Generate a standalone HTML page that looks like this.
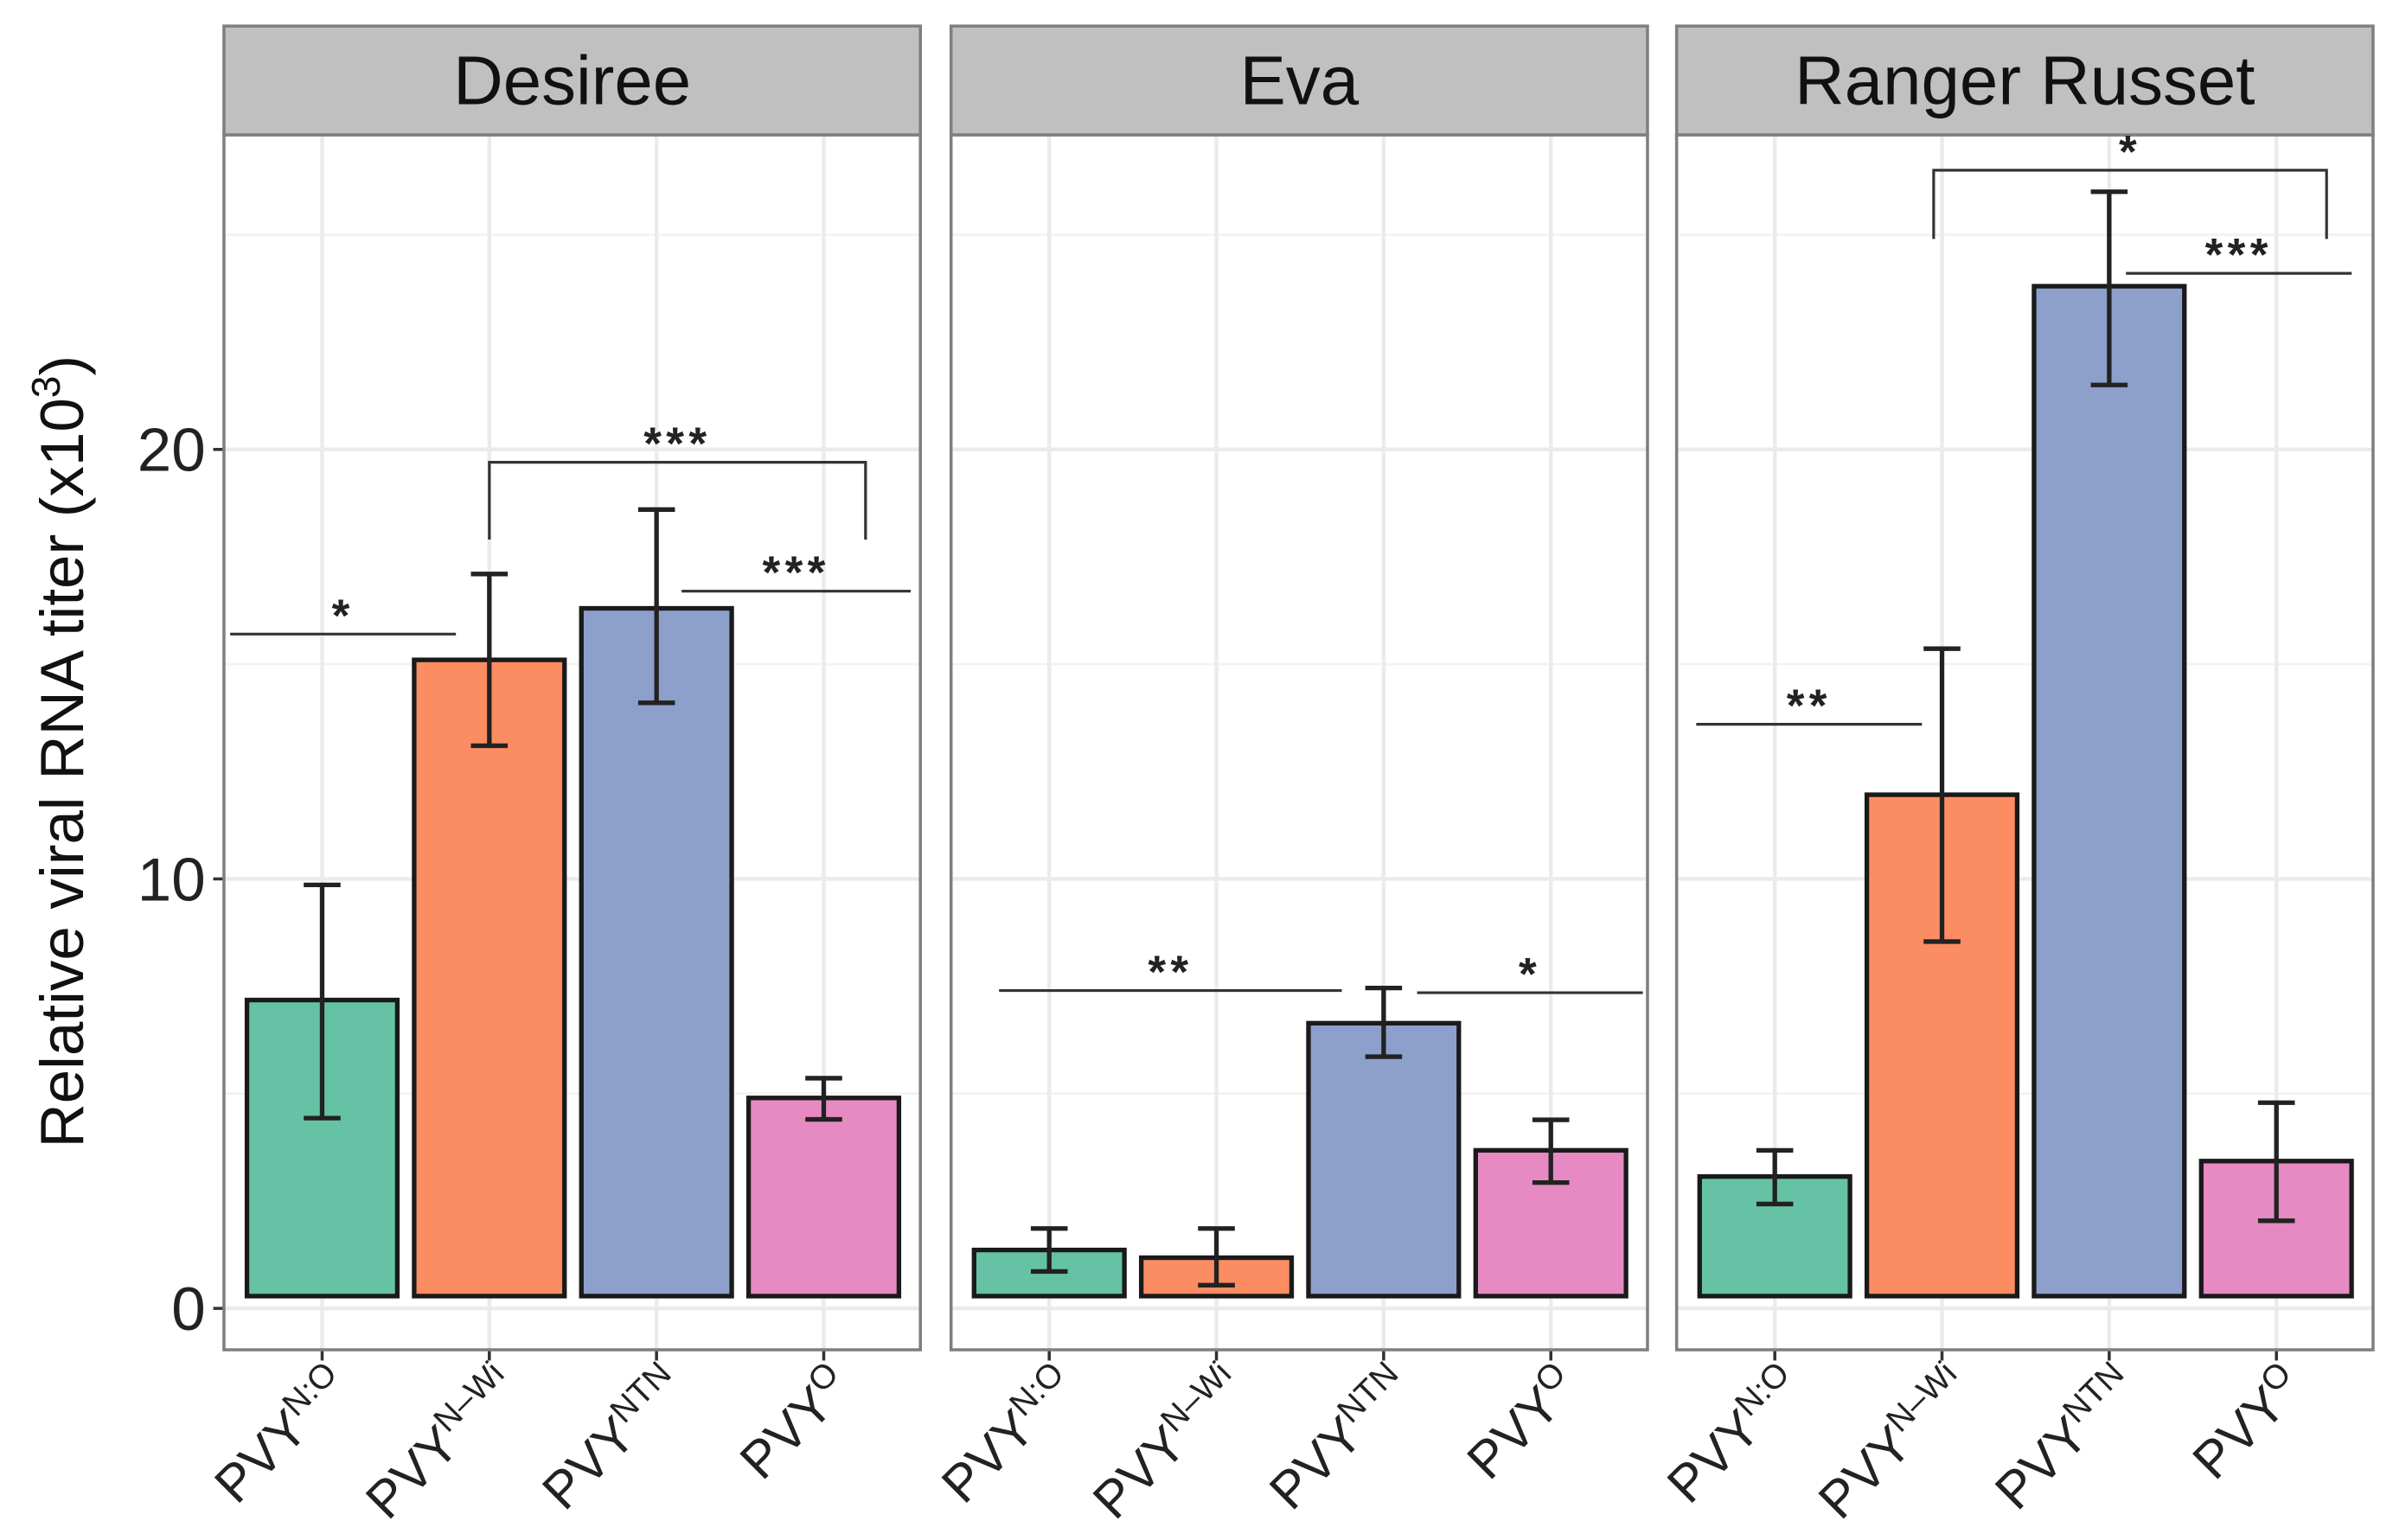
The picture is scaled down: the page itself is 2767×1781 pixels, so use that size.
<!DOCTYPE html>
<html><head><meta charset="utf-8"><style>
html,body{margin:0;padding:0;background:#fff}
svg{display:block}
text{font-family:"Liberation Sans",sans-serif}
</style></head><body>
<svg id="chart" width="2767" height="1781" viewBox="0 0 1560 1004" preserveAspectRatio="none" xmlns="http://www.w3.org/2000/svg">
</svg>
<script>
const panels = ["Desiree", "Eva", "Ranger Russet"];
const categories = ["N:O", "N\u2013Wi", "NTN", "O"];
const colors = ["#66c2a5", "#fc8d62", "#8da0cb", "#e78ac3"];
const meansDesiree = [7.18, 15.1, 16.3, 4.9];
const meansEva = [1.36, 1.18, 6.64, 3.68];
const meansRanger = [3.07, 11.96, 23.8, 3.43];
const errHiDesiree = [9.86, 17.1, 18.6, 5.36];
const errLoDesiree = [4.43, 13.1, 14.1, 4.4];
const errHiEva = [1.86, 1.86, 7.46, 4.39];
const errLoEva = [0.86, 0.54, 5.86, 2.93];
const errHiRanger = [3.68, 15.36, 26.0, 4.79];
const errLoRanger = [2.43, 8.54, 21.5, 2.04];
const yTicks = [0, 10, 20];
const yMinor = [5, 15, 25];
const sigs = [
 {p:0, bracket:false, a:-0.55, b:0.8, v:15.7, label:"*"},
 {p:0, bracket:true, a:1, b:3.25, v:19.7, leg:17.9, label:"***"},
 {p:0, bracket:false, a:2.15, b:3.52, v:16.7, label:"***"},
 {p:1, bracket:false, a:-0.3, b:1.75, v:7.4, label:"**"},
 {p:1, bracket:false, a:2.2, b:3.55, v:7.35, label:"*"},
 {p:2, bracket:false, a:-0.47, b:0.88, v:13.6, label:"**"},
 {p:2, bracket:true, a:0.95, b:3.3, v:26.5, leg:24.9, label:"*"},
 {p:2, bracket:false, a:2.1, b:3.45, v:24.1, label:"***"}
];
const means = [meansDesiree, meansEva, meansRanger];
const hi = [errHiDesiree, errHiEva, errHiRanger];
const lo = [errLoDesiree, errLoEva, errLoRanger];

const svg = document.getElementById('chart');
const NS = "http://www.w3.org/2000/svg";
const panelX = [146, 620, 1093], panelW = 454;
const y = v => 853 - 28 * v;
const xc = (p, i) => panelX[p] + 64 + i * 109;
const base = 845;
function mk(tag, attrs, txt) {
  const e = document.createElementNS(NS, tag);
  for (const k in attrs) e.setAttribute(k, attrs[k]);
  if (txt !== undefined) e.textContent = txt;
  svg.appendChild(e);
  return e;
}
let t = mk('text', {x: 0, y: 0, transform: 'translate(54,490) rotate(-90)', 'text-anchor': 'middle', 'font-size': 40, fill: '#111'});


t.innerHTML = 'Relative viral RNA titer (x10<tspan dy="-15" font-size="26">3</tspan><tspan dy="15">)</tspan>';
yTicks.forEach(v => {
  const l = mk('text', {x: 134, y: y(v) + 14, 'text-anchor': 'end', 'font-size': 40, fill: '#222'}, String(v));
  
  
  const tk = mk('line', {x1: 139, x2: 146, y1: y(v), y2: y(v), stroke: '#333', 'stroke-width': 2});
  
  
});
panels.forEach((name, p) => {
  const px = panelX[p];
  const st = mk('rect', {x: px, y: 17, width: panelW, height: 71, fill: '#c0c0c0', stroke: '#7f7f7f', 'stroke-width': 2});
  
  
  const stt = mk('text', {x: px + panelW / 2, y: 68, 'text-anchor': 'middle', 'font-size': 45, fill: '#111'}, name);
  
  
  const bg = mk('rect', {x: px, y: 88, width: panelW, height: 792, fill: '#fff'});
  
  
  yMinor.forEach(v => {
    const g = mk('line', {x1: px, x2: px + panelW, y1: y(v), y2: y(v), stroke: '#f2f2f2', 'stroke-width': 1.5});
    
    
  });
  yTicks.forEach(v => {
    const g = mk('line', {x1: px, x2: px + panelW, y1: y(v), y2: y(v), stroke: '#ebebeb', 'stroke-width': 2.5});
    
    
  });
  categories.forEach((c, i) => {
    const g = mk('line', {x1: xc(p, i), x2: xc(p, i), y1: 88, y2: 880, stroke: '#ebebeb', 'stroke-width': 2.5});
    
    
  });
  categories.forEach((c, i) => {
    const m = means[p][i];
    const b = mk('rect', {x: xc(p, i) - 49, y: y(m), width: 98, height: base - y(m), fill: colors[i], stroke: '#1a1a1a', 'stroke-width': 3});
    
    
    const x = xc(p, i);
    const e = mk('path', {d: `M${x - 12},${y(hi[p][i])}H${x + 12}M${x},${y(hi[p][i])}V${y(lo[p][i])}M${x - 12},${y(lo[p][i])}H${x + 12}`, stroke: '#222', 'stroke-width': 3, fill: 'none'});
    
    
    const tk = mk('line', {x1: x, x2: x, y1: 880, y2: 887, stroke: '#333', 'stroke-width': 2});
    
    
    const lab = mk('text', {x: 0, y: 0, transform: `translate(${x + 20},${906}) rotate(-45)`, 'text-anchor': 'end', 'font-size': 34, fill: '#222'});
    
    
    lab.innerHTML = 'PVY<tspan dy="-13" font-size="22">' + c + '</tspan>';
  });
  const br = mk('rect', {x: px, y: 88, width: panelW, height: 792, fill: 'none', stroke: '#7f7f7f', 'stroke-width': 2});
  
  
});
sigs.forEach(s => {
  const x1 = xc(s.p, s.a), x2 = xc(s.p, s.b), yy = y(s.v);
  let d = `M${x1},${yy}H${x2}`;
  if (s.bracket) d = `M${x1},${y(s.leg)}V${yy}H${x2}V${y(s.leg)}`;
  const l = mk('path', {d: d, stroke: '#333', 'stroke-width': 1.8, fill: 'none'});
  
  
  const tx = mk('text', {x: (x1 + x2) / 2, y: yy - 2, 'text-anchor': 'middle', 'font-size': 30, 'font-weight': 'bold', 'letter-spacing': 3, fill: '#222'}, s.label);
  
  
});
</script>
</body></html>
